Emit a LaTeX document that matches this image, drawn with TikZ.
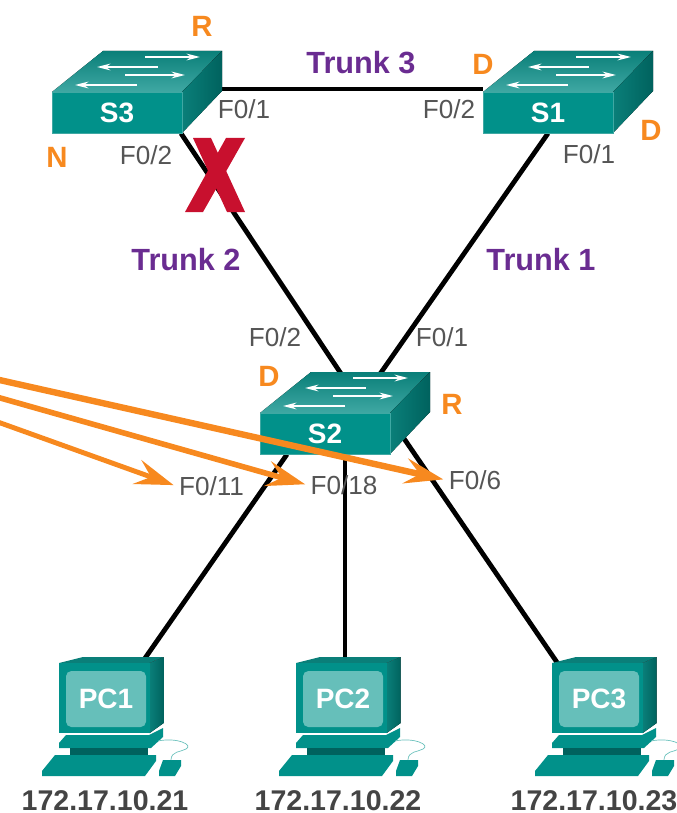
\documentclass[tikz,border=0pt]{standalone}
\usepackage{fontspec}
\setmainfont{Liberation Sans}
\usepackage{tikz}
\usetikzlibrary{positioning}
\usetikzlibrary{arrows.meta}
\usetikzlibrary{backgrounds}

\definecolor{tealfront}{HTML}{01918A}
\definecolor{tealdark}{HTML}{00625E}
\definecolor{tealmid}{HTML}{0A7F79}
\definecolor{teallight}{HTML}{3FA8A3}
\definecolor{tealscreen}{HTML}{66BFBA}
\definecolor{orangemark}{HTML}{F7891F}
\definecolor{trunkpurple}{HTML}{6A2C91}
\definecolor{crossred}{HTML}{C8102E}
\definecolor{portgrey}{HTML}{555555}
\definecolor{ipgrey}{HTML}{444444}

\tikzset{
  switchface/.style={fill=tealfront, draw=teallight, line width=0.5pt, inner sep=0pt,
    minimum width=97.5pt, minimum height=30.75pt, text=white,
    font=\fontsize{21}{21}\selectfont\bfseries},
  pcscreen/.style={fill=tealscreen, rounded corners=4pt, inner sep=0pt,
    minimum width=60pt, minimum height=42pt, text=white,
    font=\fontsize{21}{21}\selectfont\bfseries},
  link/.style={line width=3.6pt, black},
  flow/.style={orangemark, line join=miter, shorten >=2pt,
    -{Stealth[length=29pt, width=19pt, inset=11pt]}},
  portlabel/.style={text=portgrey, inner sep=2pt, font=\fontsize{19.6}{20}\selectfont},
  trunklabel/.style={text=trunkpurple, font=\fontsize{23}{23}\selectfont\bfseries},
  rolelabel/.style={text=orangemark, font=\fontsize{22}{22}\selectfont\bfseries},
  iplabel/.style={text=ipgrey, inner sep=0pt, font=\fontsize{21.4}{22}\selectfont\bfseries},
  pics/switchicon/.style 2 args={code={
    \fill[top color=tealmid, bottom color=teallight] (0,41) -- (51,0) -- (170,0) -- (130,41) -- cycle;
    \fill[left color=tealmid, right color=tealdark] (130,41) -- (170,0) -- (170,40) -- (130,82) -- cycle;
    \node[switchface] (#1) at (65,61.5) {#2};
    \draw[white, line width=1.5pt, -{Stealth[length=10pt, width=5pt]}] (93,6) -- (148,6);
    \draw[white, line width=1.5pt, -{Stealth[length=10pt, width=5pt]}] (106,16) -- (45,16);
    \draw[white, line width=1.5pt, -{Stealth[length=10pt, width=5pt]}] (73,24) -- (133,24);
    \draw[white, line width=1.5pt, -{Stealth[length=10pt, width=5pt]}] (85,34) -- (23,34);
  }},
  pics/pcicon/.style 2 args={code={
    \fill[tealmid] (0,6) -- (24,0) -- (104.7,0) -- (90.7,6) -- cycle;
    \fill[left color=tealmid, right color=tealdark] (90.7,6) -- (104.7,0) -- (104.7,66) -- (90.7,76) -- cycle;
    \fill[tealfront] (0,6) rectangle (90.7,76);
    \node[pcscreen] (#1) at (47,42) {#2};
    \fill[tealfront] (7,78) -- (0,86) -- (0,91) -- (92,91) -- (104,80) -- (104,71) -- (90,78) -- cycle;
    \fill[tealdark] (11,91) rectangle (89,98);
    \fill[tealfront] (-4,98) -- (97,98) -- (97,104) -- (86,119) -- (-17,119) -- (-17,114) -- cycle;
    \fill[tealfront] (104,103) -- (122,103) -- (122,109) -- (116,119) -- (100,119) -- (100,114) -- cycle;
    \draw[tealscreen, line width=0.5pt] (99,84) .. controls (118,80) and (135,88) .. (127,92)
      .. controls (122,95) and (112,94) .. (112,103);
  }}
}

\begin{document}
\begin{tikzpicture}[x=0.75pt, y=-0.75pt]

\useasboundingbox (0,0) rectangle (676,813);

\pic at (52,51) {switchicon={s3}{S3}};
\pic at (483,51) {switchicon={s1}{S1}};
\pic at (260,372) {switchicon={s2}{S2}};

\pic at (59,657) {pcicon={pc1}{PC1}};
\pic at (296,657) {pcicon={pc2}{PC2}};
\pic at (552,657) {pcicon={pc3}{PC3}};

\begin{scope}[on background layer]
\draw[link] ([yshift=2pt]s3.north east) to ([yshift=2pt]s1.north west);
\draw[link] ([xshift=-1pt]s3.south east) to ([xshift=31.5pt]s2.north);
\draw[link] (s1.south) to ([xshift=21pt]s2.north);
\draw[link] ([xshift=-28.5pt]s2.south) to ([xshift=-7.5pt]pc1.north east);
\draw[link] ([xshift=15pt]s2.south) to ([xshift=1.5pt]pc2.north);
\draw[link] ([xshift=-3pt]s2.north east) to ([xshift=3pt]pc3.north west);
\end{scope}

% blocked port
\fill[crossred] (193,138) -- (211,138) -- (245,212) -- (227,212) -- cycle;
\fill[crossred] (226,138) -- (245,138) -- (203,212) -- (185,212) -- cycle;

\node[rolelabel] (rs3) at (202,26) {R};
\node[rolelabel] (ns3) at (57,157) {N};
\node[rolelabel] (ds1a) at (483,64) {D};
\node[rolelabel] (ds1b) at (651,130) {D};
\node[rolelabel] (ds2) at (269,376) {D};
\node[rolelabel] (rs2) at (452,404) {R};

\node[trunklabel] (t3) at (361,63) {Trunk 3};
\node[trunklabel] (t2) at (186,260) {Trunk 2};
\node[trunklabel] (t1) at (541,260) {Trunk 1};

\node[portlabel] (s3f1) at (244,109) {F0/1};
\node[portlabel] (s3f2) at (146,155) {F0/2};
\node[portlabel] (s1f2) at (449,109) {F0/2};
\node[portlabel] (s1f1) at (589,154) {F0/1};
\node[portlabel] (s2f2) at (275,337) {F0/2};
\node[portlabel] (s2f1) at (442,337) {F0/1};

\coordinate (a1) at (-5,421);
\coordinate (a2) at (-5,396.5);
\coordinate (a3) at (-5,379);

\node[portlabel] (f11) at (211.5,486) {F0/11};
\node[portlabel] (f18) at (344,485) {F0/18};
\node[portlabel] (f6) at (475,480) {F0/6};

\draw[flow, line width=3.7pt] (a1) to (f11.west);
\draw[flow, line width=4.2pt] (a2) to (f18.west);
\draw[flow, line width=4.8pt] (a3) to (f6.west);

\node[iplabel] (ip1) at (105,801) {172.17.10.21};
\node[iplabel] (ip2) at (338,801) {172.17.10.22};
\node[iplabel] (ip3) at (594,801) {172.17.10.23};

\end{tikzpicture}
\end{document}
